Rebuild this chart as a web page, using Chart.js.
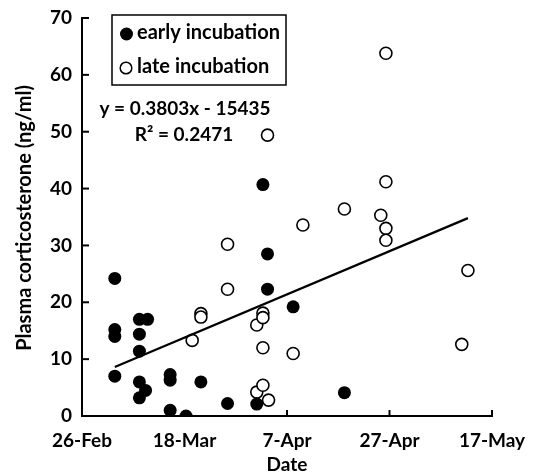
<!DOCTYPE html>
<html>
<head>
<meta charset="utf-8">
<script src="https://cdn.jsdelivr.net/npm/chart.js@4.4.1/dist/chart.umd.min.js"></script>
<style>
  html, body { margin: 0; padding: 0; background: #fff; }
  #wrap { width: 533px; height: 473px; }
</style>
</head>
<body>
<div id="wrap"><canvas id="chart" width="533" height="473"></canvas></div>
<script>
// x values are days after 26-Feb
const tickLabels = ['26-Feb', '18-Mar', '7-Apr', '27-Apr', '17-May'];

const earlyDays = [6.4, 6.4, 6.4, 6.4, 11.2, 12.8, 11.2, 11.2, 11.2, 12.4, 11.2, 17.2, 17.2, 17.2, 20.3, 23.2, 28.4, 34.1, 36.2, 36.2, 41.2, 35.3, 51.2];
const earlyCort = [24.2, 15.2, 14.0, 7.0, 17.0, 17.0, 14.4, 11.4, 6.0, 4.5, 3.2, 7.3, 6.3, 1.0, 0, 6.0, 2.2, 2.1, 28.5, 22.3, 19.2, 40.7, 4.1];

const lateDays = [21.5, 23.2, 23.2, 28.4, 28.4, 34.1, 35.3, 35.3, 35.3, 34.1, 35.3, 36.4, 41.2, 36.2, 43.1, 51.2, 58.3, 59.3, 59.3, 59.3, 59.3, 75.3, 74.1];
const lateCort = [13.3, 18.0, 17.4, 30.2, 22.3, 16.0, 18.1, 17.3, 12.0, 4.2, 5.4, 2.8, 11.0, 49.4, 33.6, 36.4, 35.3, 33.0, 30.9, 63.8, 41.2, 25.6, 12.6];

const trendDays = [6.4, 75.3];
const trendCort = [8.6, 34.8];

const fontFam = 'Lato, "Open Sans", sans-serif';

function toPoints(xs, ys) {
  return xs.map((x, i) => ({ x: x, y: ys[i] }));
}

// inner tick marks, legend box, equation and y title
const extras = {
  id: 'extras',
  afterDraw(chart) {
    const c = chart.ctx;
    const xs = chart.scales.x;
    const ys = chart.scales.y;
    const area = chart.chartArea;
    c.save();
    c.strokeStyle = '#000';
    c.lineWidth = 2;
    for (let v = 20; v <= 80; v += 20) {
      const px = xs.getPixelForValue(v);
      c.beginPath();
      c.moveTo(px, area.bottom);
      c.lineTo(px, area.bottom - 6);
      c.stroke();
    }
    for (let v = 10; v <= 70; v += 10) {
      const py = ys.getPixelForValue(v);
      c.beginPath();
      c.moveTo(area.left, py);
      c.lineTo(area.left + 7, py);
      c.stroke();
    }

    // legend
    c.lineWidth = 1.5;
    c.strokeRect(112, 15, 174, 70);
    c.fillStyle = '#000';
    c.beginPath();
    c.arc(126.5, 34, 6.5, 0, Math.PI * 2);
    c.fill();
    c.fillStyle = '#fff';
    c.beginPath();
    c.arc(126, 68, 5.8, 0, Math.PI * 2);
    c.fill();
    c.stroke();
    c.fillStyle = '#000';
    c.font = 'bold 20px ' + fontFam;
    c.textBaseline = 'middle';
    c.textAlign = 'left';
    c.fillText('early incubation', 137, 33);
    c.fillText('late incubation', 137, 67);

    // equation
    c.font = 'bold 19px ' + fontFam;
    c.textAlign = 'center';
    c.fillText('y = 0.3803x - 15435', 185, 109);
    c.fillText('R\u00B2 = 0.2471', 184, 135);

    // y title
    c.font = 'bold 20px ' + fontFam;
    c.translate(25, 218);
    c.rotate(-Math.PI / 2);
    c.fillText('Plasma corticosterone (ng/ml)', 0, 0);
    c.restore();
  }
};

const ctx = document.getElementById('chart');

new Chart(ctx, {
  type: 'scatter',
  data: {
    datasets: [
      {
        label: 'late incubation',
        data: toPoints(lateDays, lateCort),
        backgroundColor: '#fff',
        borderColor: '#000',
        borderWidth: 1.6,
        pointRadius: 6,
        order: 2
      },
      {
        label: 'early incubation',
        data: toPoints(earlyDays, earlyCort),
        backgroundColor: '#000',
        borderColor: '#000',
        borderWidth: 0,
        pointRadius: 6.5,
        order: 1
      },
      {
        type: 'line',
        label: 'trend',
        data: toPoints(trendDays, trendCort),
        borderColor: '#000',
        borderWidth: 2.2,
        pointRadius: 0,
        fill: false,
        order: 0
      }
    ]
  },
  options: {
    responsive: false,
    animation: false,
    layout: { padding: { top: 18, right: 41, left: 0, bottom: 0 } },
    plugins: {
      legend: { display: false },
      tooltip: { enabled: false }
    },
    scales: {
      x: {
        type: 'linear',
        min: 0,
        max: 80,
        afterFit: (s) => { s.height = 57; s.paddingLeft = 0; s.paddingRight = 0; },
        afterBuildTicks: (s) => { s.ticks = tickLabels.map((t, i) => ({ value: i * 20 })); },
        ticks: {
          callback: (v) => tickLabels[Math.round(v / 20)],
          color: '#000',
          font: { family: fontFam, size: 19, weight: 'bold' },
          padding: 13,
          maxRotation: 0
        },
        grid: { display: false, drawTicks: false },
        border: { color: '#000', width: 2 },
        title: {
          display: true,
          text: 'Date',
          color: '#000',
          font: { family: fontFam, size: 19, weight: 'bold' },
          padding: { top: 0, bottom: -3 }
        }
      },
      y: {
        min: 0,
        max: 70,
        afterFit: (s) => { s.width = 82; s.paddingTop = 0; s.paddingBottom = 0; },
        ticks: {
          stepSize: 10,
          color: '#000',
          font: { family: fontFam, size: 19, weight: 'bold' },
          padding: 10
        },
        grid: { display: false, drawTicks: false },
        border: { color: '#000', width: 2 }
      }
    }
  },
  plugins: [extras]
});
</script>
</body>
</html>
